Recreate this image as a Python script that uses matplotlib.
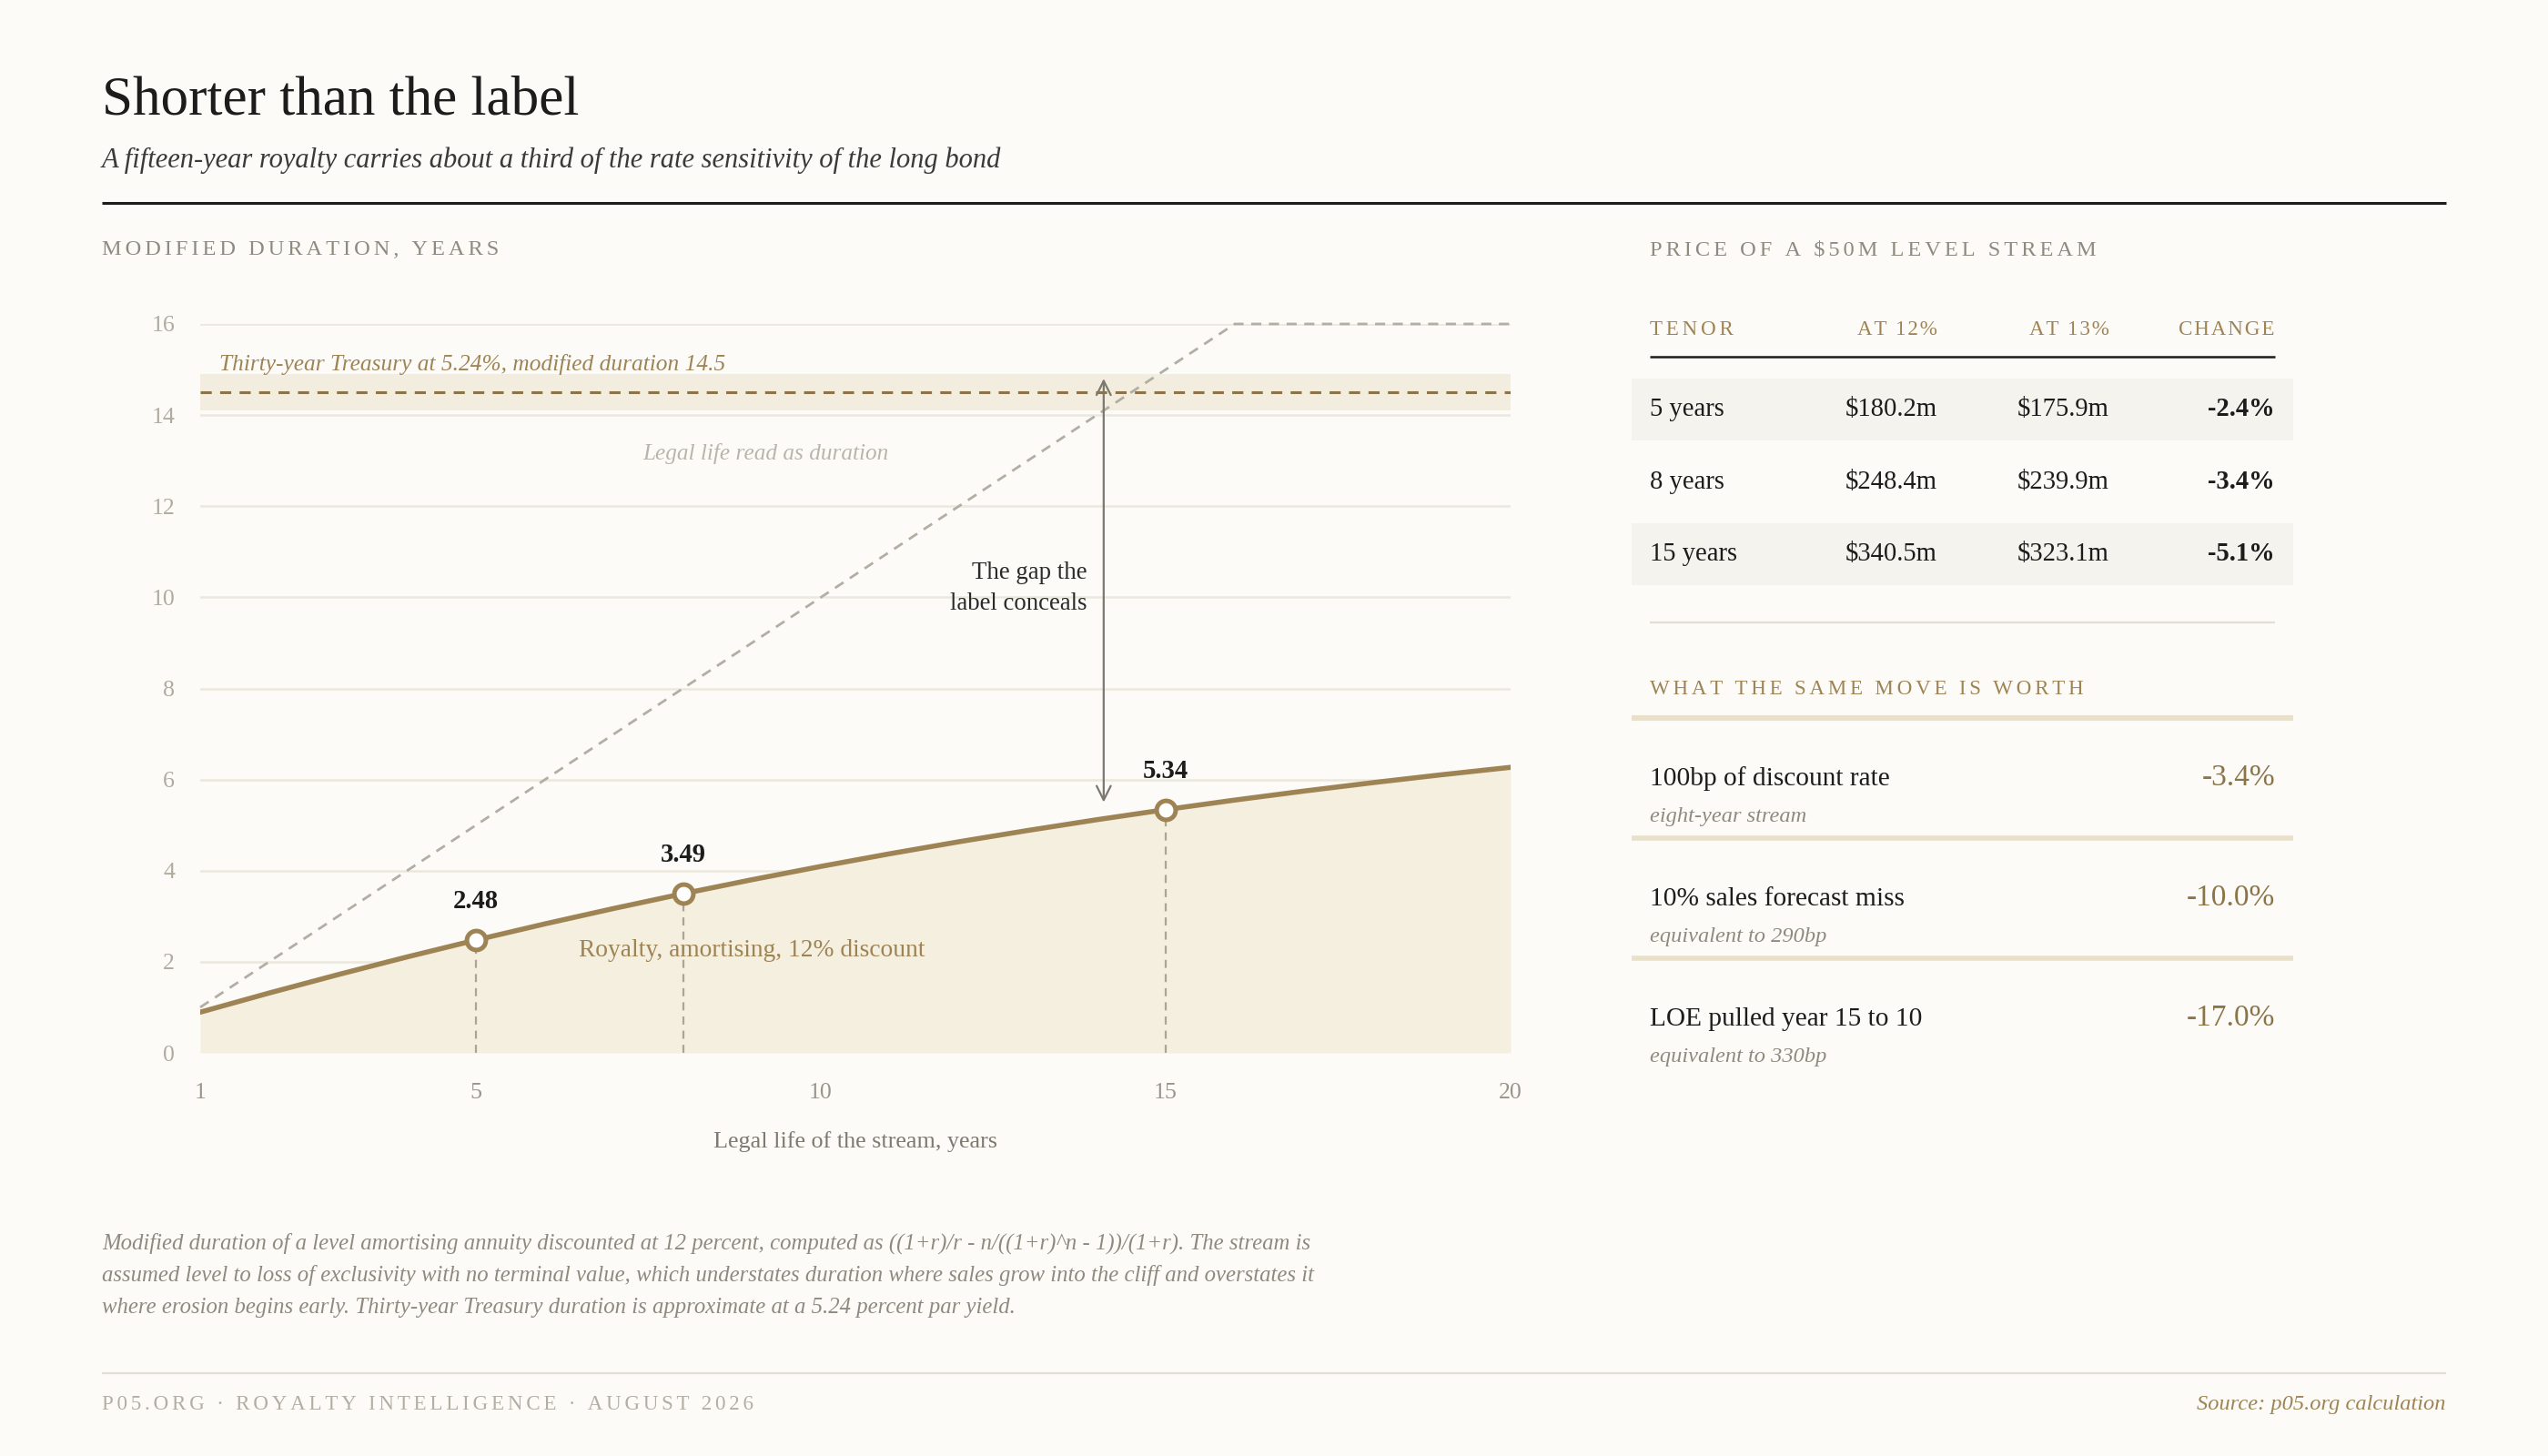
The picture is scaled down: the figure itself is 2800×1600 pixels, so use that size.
import matplotlib
matplotlib.use("Agg")
import matplotlib.pyplot as plt
from matplotlib.patches import Rectangle

# chart data
years = list(range(1, 21))
royalty_duration = [0.893, 1.314, 1.718, 2.106, 2.477, 2.832, 3.171, 3.494, 3.801, 4.093,
                    4.371, 4.634, 4.882, 5.118, 5.340, 5.549, 5.746, 5.931, 6.105, 6.268]
naive_years = [1, 16, 20]
naive_duration = [1, 16, 16]
treasury_duration = 14.5
treasury_band = (14.1, 14.9)
marked_years = [5, 8, 15]
marked_values = [2.48, 3.49, 5.34]
gap_year = 14.1
gap_from = 5.5
gap_to = 14.8

# table data
tenors = ["5 years", "8 years", "15 years"]
price_12 = ["$180.2m", "$248.4m", "$340.5m"]
price_13 = ["$175.9m", "$239.9m", "$323.1m"]
price_change = ["-2.4%", "-3.4%", "-5.1%"]

moves = ["100bp of discount rate", "10% sales forecast miss", "LOE pulled year 15 to 10"]
move_notes = ["eight-year stream", "equivalent to 290bp", "equivalent to 330bp"]
move_values = ["-3.4%", "-10.0%", "-17.0%"]

BG = "#fcfbf7"
GOLD = "#9e8455"
GOLD_DARK = "#8b7447"
GREY = "#8f8a7f"
LIGHT = "#b3aea3"
INK = "#1c1c1c"
SERIF = ["Liberation Serif", "DejaVu Serif"]

plt.rcParams["font.family"] = SERIF


def spaced(s, n=2):
    # fake letter spacing with hair spaces
    return ("\u200a" * n).join(s)


fig = plt.figure(figsize=(14, 8), dpi=200, facecolor=BG)

# full-figure axes in pixel coordinates for the text and rules
bg = fig.add_axes([0, 0, 1, 1], zorder=0)
bg.set_xlim(0, 2800)
bg.set_ylim(1600, 0)
bg.axis("off")

L, R = 112, 2688
bg.text(L, 125, "Shorter than the label", fontsize=22, color=INK, va="baseline")
bg.text(L, 184, "A fifteen-year royalty carries about a third of the rate sensitivity of the long bond",
        fontsize=11, style="italic", color="#3a3a3a", va="baseline")
bg.plot([L, R], [223, 223], color=INK, lw=1.1, solid_capstyle="butt")

bg.text(L, 280, spaced("MODIFIED DURATION, YEARS"), fontsize=8.8, color=GREY, va="baseline")
bg.text(1813, 280, spaced("PRICE OF A $50M LEVEL STREAM"), fontsize=8.8, color=GREY, va="baseline")

# price table
tl, tr = 1813, 2500
pl, pr = 1793, 2520
col_right = [2129, 2318, tr]
bg.text(tl, 368, spaced("TENOR"), fontsize=8.3, color=GOLD, va="baseline")
for x, h in zip(col_right, ["AT 12%", "AT 13%", "CHANGE"]):
    bg.text(x, 368, spaced(h, 1), fontsize=8.3, color=GOLD, va="baseline", ha="right")
bg.plot([tl, tr], [392, 392], color=INK, lw=0.9, solid_capstyle="butt")

row_base = [457, 537, 616]
for i, base in enumerate(row_base):
    if i % 2 == 0:
        bg.add_patch(Rectangle((pl, base - 41), pr - pl, 68, facecolor="#f5f3ee", edgecolor="none"))
    bg.text(tl, base, tenors[i], fontsize=10.3, color=INK, va="baseline")
    bg.text(col_right[0], base, price_12[i], fontsize=10.3, color=INK, va="baseline", ha="right")
    bg.text(col_right[1], base, price_13[i], fontsize=10.3, color=INK, va="baseline", ha="right")
    bg.text(col_right[2], base, price_change[i], fontsize=10.3, color=INK, va="baseline", ha="right",
            fontweight="bold")
bg.plot([tl, tr], [684, 684], color="#e2ded4", lw=0.8, solid_capstyle="butt")

# what the same move is worth
bg.text(tl, 763, spaced("WHAT THE SAME MOVE IS WORTH"), fontsize=8.3, color=GOLD, va="baseline")
bg.plot([pl, pr], [789, 789], color="#e9e0c9", lw=2.2, solid_capstyle="butt")
for i in range(3):
    base = 863 + 132 * i
    bg.text(tl, base, moves[i], fontsize=10.6, color=INK, va="baseline")
    bg.text(tl, base + 40, move_notes[i], fontsize=8.8, style="italic", color=GREY, va="baseline")
    bg.text(tr, base, move_values[i], fontsize=12, color=GOLD_DARK, va="baseline", ha="right")
    if i < 2:
        bg.plot([pl, pr], [base + 58, base + 58], color="#e9e0c9", lw=2.0, solid_capstyle="butt")

# footnote and footer
notes = [
    "Modified duration of a level amortising annuity discounted at 12 percent, computed as ((1+r)/r - n/((1+r)^n - 1))/(1+r). The stream is",
    "assumed level to loss of exclusivity with no terminal value, which understates duration where sales grow into the cliff and overstates it",
    "where erosion begins early. Thirty-year Treasury duration is approximate at a 5.24 percent par yield.",
]
for i, line in enumerate(notes):
    bg.text(L, 1373 + 35 * i, line, fontsize=8.9, style="italic", color=GREY, va="baseline")
bg.plot([L, R], [1509, 1509], color="#e2ded4", lw=0.8, solid_capstyle="butt")
bg.text(L, 1549, spaced("P05.ORG · ROYALTY INTELLIGENCE · AUGUST 2026"), fontsize=8.3, color=LIGHT,
        va="baseline")
bg.text(R, 1549, "Source: p05.org calculation", fontsize=8.8, style="italic", color=GOLD,
        va="baseline", ha="right")

# main chart
ax = fig.add_axes([220 / 2800, 1 - 1157 / 1600, (1660 - 220) / 2800, (1157 - 356) / 1600], zorder=2)
ax.set_facecolor("none")
ax.set_xlim(1, 20)
ax.set_ylim(0, 16)
for s in ax.spines.values():
    s.set_visible(False)
ax.set_yticks(range(0, 17, 2))
ax.set_xticks([1, 5, 10, 15, 20])
ax.tick_params(length=0, labelsize=9.3)
ax.tick_params(axis="y", pad=10, labelcolor="#b0ab9f")
ax.tick_params(axis="x", pad=12, labelcolor="#9a958a")
ax.grid(axis="y", color="#ebe8df", lw=0.9)
ax.set_axisbelow(True)

ax.axhspan(treasury_band[0], treasury_band[1], color="#f3eddf", lw=0, zorder=1)
ax.axhline(treasury_duration, color=GOLD_DARK, lw=1.1, dashes=(4, 3), zorder=3)
ax.text(1.28, 14.98, "Thirty-year Treasury at 5.24%, modified duration 14.5", fontsize=9.15,
        style="italic", color=GOLD, va="baseline")

ax.fill_between(years, royalty_duration, 0, color="#f5efdf", lw=0, zorder=1)
ax.plot(naive_years, naive_duration, color=LIGHT, lw=1.0, dashes=(4, 3), clip_on=False, zorder=2)
ax.text(9.2, 13.02, "Legal life read as duration", fontsize=9.1, style="italic", color="#bab5aa",
        va="baseline", ha="center")

for x, v in zip(marked_years, marked_values):
    ax.plot([x, x], [0, v], color="#aaa598", lw=0.8, dashes=(4, 3), zorder=2)
ax.plot(years, royalty_duration, color=GOLD, lw=2.0, zorder=4, solid_capstyle="round")
ax.plot(marked_years, marked_values, "o", ms=7.5, mfc="white", mec=GOLD, mew=1.8, zorder=5)
for x, v in zip(marked_years, marked_values):
    ax.text(x, v + 0.58, f"{v:.2f}", fontsize=10.3, fontweight="bold", color=INK, ha="center",
            va="bottom")

ax.text(6.49, 2.24, "Royalty, amortising, 12% discount", fontsize=9.9, color=GOLD, va="center")

ax.annotate("", xy=(gap_year, gap_to), xytext=(gap_year, gap_from),
            arrowprops=dict(arrowstyle="<->", color="#7c786f", lw=0.8, shrinkA=0, shrinkB=0,
                            mutation_scale=14), zorder=3)
ax.text(13.86, 10.2, "The gap the\nlabel conceals", fontsize=9.7, color="#2a2a2a", ha="right",
        va="center", multialignment="right", linespacing=1.45)

ax.set_xlabel("Legal life of the stream, years", fontsize=9.4, color="#7f7a70", labelpad=11)

fig.savefig("out.png", dpi=200, facecolor=BG)
